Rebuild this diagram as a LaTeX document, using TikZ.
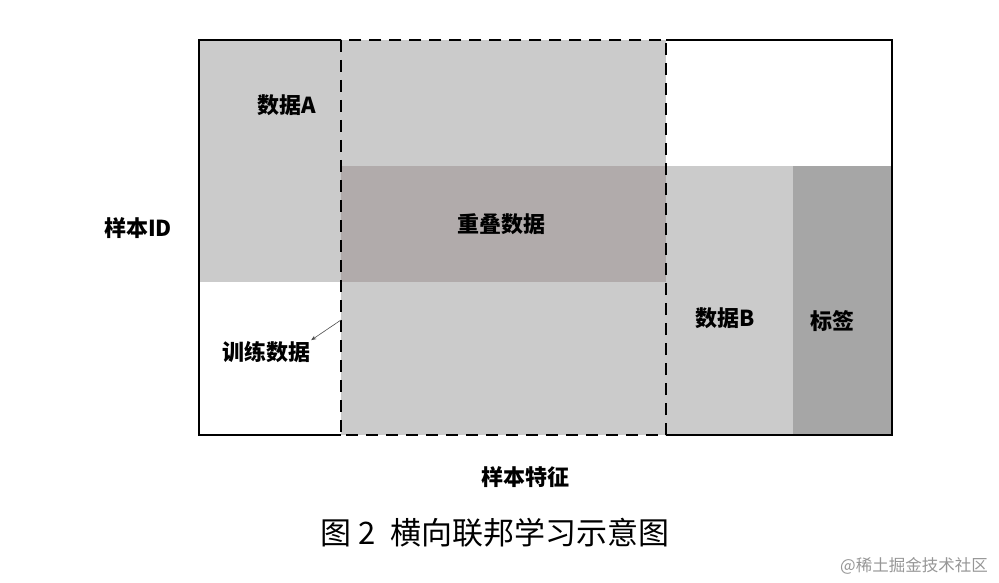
\documentclass[tikz,border=0pt]{standalone}
\usepackage{fontspec}
\setmainfont{Noto Sans CJK SC}
\usetikzlibrary{arrows.meta}
\definecolor{lightgrey}{RGB}{203,203,203}
\definecolor{overlapgrey}{RGB}{177,171,171}
\definecolor{labelgrey}{RGB}{166,166,166}
\definecolor{markgrey}{RGB}{150,150,150}
\tikzset{
  tag/.style={font=\fontsize{22}{26}\selectfont\bfseries, inner sep=1pt},
  frame/.style={black, line width=2.8pt},
  dashframe/.style={black, line width=2.8pt, dash pattern=on 12pt off 8pt},
}

\begin{document}
\begin{tikzpicture}[x=1pt,y=-1pt]
    %Values
    \def\xl{199} \def\xa{341} \def\xb{666} \def\xc{793} \def\xr{892}
    \def\yt{40} \def\ya{166} \def\yb{282} \def\yd{435}

    \useasboundingbox (0,0) rectangle (999,583);

    % Blocks
    \fill[lightgrey] (\xl,\yt) rectangle (\xa,\yb);
    \fill[lightgrey] (\xa,\yt) rectangle (\xb,\yd);
    \fill[overlapgrey] (\xa,\ya) rectangle (\xb,\yb);
    \fill[lightgrey] (\xb,\ya) rectangle (\xc,\yd);
    \fill[labelgrey] (\xc,\ya) rectangle (\xr,\yd);

    % Frames
    \draw[frame] (\xa,\yt) -- (\xl,\yt) -- (\xl,\yd) -- (\xa,\yd);
    \draw[frame] (\xb,\yt) -- (\xr,\yt) -- (\xr,\yd) -- (\xb,\yd);
    \draw[dashframe] (\xa,\yt) rectangle (\xb,\yd);

    % Labels
    \node[tag] (dataA) at (287,105) {数据A};
    \node[tag] (overlap) at (501,224) {重叠数据};
    \node[tag] (sampleid) at (138,228) {样本ID};
    \node[tag] (train) at (266,352) {训练数据};
    \node[tag] (dataB) at (725,318) {数据B};
    \node[tag] (labels) at (832,321) {标签};
    \node[tag] (feature) at (525,477) {样本特征};
    \node[font=\fontsize{31}{36}\selectfont] (caption) at (495,533) {图 2\ \ 横向联邦学习示意图};
    \node[font=\fontsize{16.5}{20}\selectfont, text=markgrey] (mark) at (914,566) {@稀土掘金技术社区};

    % Arrow
    \coordinate (edge) at (\xa,320);
    \draw[-{Stealth[length=5pt,width=4pt]}, black!70, line width=0.6pt] (edge) -- (train.north east);
\end{tikzpicture}
\end{document}
